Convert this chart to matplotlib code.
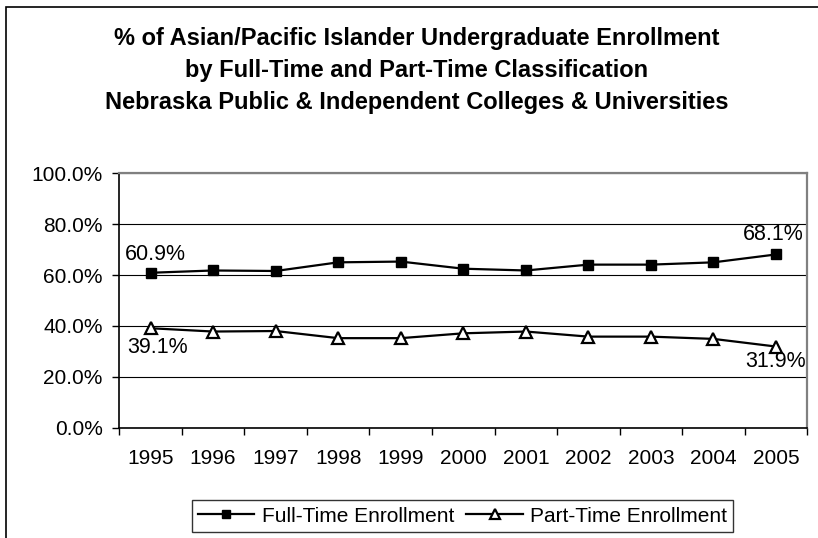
import matplotlib.pyplot as plt
from matplotlib.patches import Rectangle

plt.rcParams['font.family'] = ['Liberation Sans', 'DejaVu Sans']

years = ['1995', '1996', '1997', '1998', '1999', '2000', '2001', '2002', '2003', '2004', '2005']
full_time = [60.9, 61.8, 61.6, 65.0, 65.3, 62.5, 61.8, 64.1, 64.1, 65.0, 68.1]
part_time = [39.1, 37.8, 38.0, 35.2, 35.2, 37.1, 37.8, 35.8, 35.8, 34.9, 31.9]
y_ticks = [0, 20, 40, 60, 80, 100]
title_lines = ['% of Asian/Pacific Islander Undergraduate Enrollment',
               'by Full-Time and Part-Time Classification',
               'Nebraska Public & Independent Colleges & Universities']

fig = plt.figure(figsize=(8.18, 5.38), dpi=100)

# outer chart frame (runs off the right and bottom edge)
fig.patches.append(Rectangle((6 / 818, -0.05), 1.0, 1 - 7 / 538 + 0.05,
                             transform=fig.transFigure, fill=False,
                             edgecolor='black', linewidth=1.2))

ax = fig.add_axes([119.3 / 818, 110.3 / 538, 688 / 818, 254.4 / 538])
x = list(range(len(years)))

ax.plot(x, full_time, color='black', linewidth=1.6, marker='s', markersize=7,
        markerfacecolor='black', label='Full-Time Enrollment')
ax.plot(x, part_time, color='black', linewidth=1.6, marker='^', markersize=9,
        markerfacecolor='white', markeredgewidth=1.6, label='Part-Time Enrollment')

ax.set_xlim(-0.5, len(years) - 0.5)
ax.set_ylim(0, 100)
ax.set_yticks(y_ticks)
ax.set_yticklabels([f'{v:.1f}%' for v in y_ticks], fontsize=15)
ax.set_xticks(x)
ax.set_xticklabels(years, fontsize=15)
ax.tick_params(axis='x', length=0, pad=15)
ax.set_xticks([i - 0.5 for i in range(len(years) + 1)], minor=True)
ax.tick_params(axis='x', which='minor', length=5, width=1, color='black')
ax.tick_params(axis='y', length=5, width=1, pad=7)

ax.grid(axis='y', color='black', linewidth=0.8)
ax.set_axisbelow(True)
for side in ['top', 'right']:
    ax.spines[side].set_color('#808080')
    ax.spines[side].set_linewidth(1.6)
for side in ['left', 'bottom']:
    ax.spines[side].set_color('black')
    ax.spines[side].set_linewidth(1.2)

# data labels at the first and last point
ax.annotate(f'{full_time[0]}%', (x[0], full_time[0]), xytext=(-18.4, 13),
            textcoords='offset points', fontsize=15.5, va='center')
ax.annotate(f'{part_time[0]}%', (x[0], part_time[0]), xytext=(-17, -14.2),
            textcoords='offset points', fontsize=15.5, va='center')
ax.annotate(f'{full_time[-1]}%', (x[-1], full_time[-1]), xytext=(-23.6, 14.2),
            textcoords='offset points', fontsize=15.5, va='center')
ax.annotate(f'{part_time[-1]}%', (x[-1], part_time[-1]), xytext=(-22.2, -11.1),
            textcoords='offset points', fontsize=15.5, va='center')

for i, line in enumerate(title_lines):
    fig.text(416.5 / 818, 1 - (38 + 32.5 * i) / 538, line,
             ha='center', va='center', fontsize=17, fontweight='bold')

leg = fig.legend(loc='center', bbox_to_anchor=(462.5 / 818, 1 - 516 / 538), ncol=2,
                 fontsize=15, frameon=True, fancybox=False, borderpad=0.3,
                 borderaxespad=0, handlelength=2.7, handletextpad=0.35,
                 columnspacing=0.6, markerscale=0.75)
leg.get_frame().set_edgecolor('black')
leg.get_frame().set_linewidth(1.0)

fig.savefig('out.png', dpi=100)
